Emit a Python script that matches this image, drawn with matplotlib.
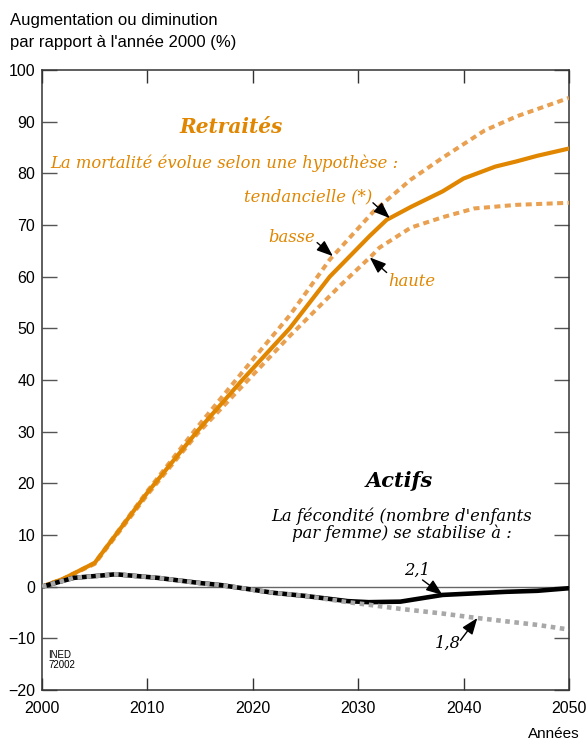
import numpy as np
import matplotlib
matplotlib.use("Agg")
import matplotlib.pyplot as plt

# ---- data ----
ret_years = [2000, 2002, 2005, 2010, 2014.7, 2019, 2023.5, 2027.3, 2031.1, 2032.7,
             2035, 2038, 2040, 2043, 2045, 2047, 2050]
ret_tend = [0, 1.5, 4.6, 18.2, 30.0, 40.0, 50.0, 60.0, 67.9, 71.0,
            73.5, 76.5, 79.0, 81.3, 82.3, 83.4, 84.8]

bas_years = [2000, 2002, 2005, 2010, 2014.7, 2019, 2023.5, 2027.3, 2031.4, 2035, 2038, 2042, 2045, 2050]
ret_basse = [0, 1.5, 4.6, 18.5, 30.8, 41.5, 52.5, 63.3, 72.5, 78.8, 83.0, 88.3, 91.0, 94.6]

hau_years = [2000, 2002, 2005, 2010, 2014.7, 2019, 2023.5, 2028.3, 2031.4, 2032, 2035, 2038, 2041, 2045, 2050]
ret_haute = [0, 1.5, 4.4, 17.8, 29.5, 38.8, 48.5, 58.3, 64.3, 65.6, 69.5, 71.5, 73.2, 73.9, 74.3]

act_years = [2000, 2003, 2007, 2011, 2015, 2017, 2020, 2022, 2025, 2027, 2029, 2031, 2034, 2038, 2041, 2044, 2047, 2050]
act_21 = [0, 1.7, 2.4, 1.7, 0.7, 0.3, -0.6, -1.2, -1.8, -2.3, -2.8, -3.0, -2.9, -1.6, -1.3, -1.0, -0.8, -0.3]
act_18 = [0, 1.7, 2.4, 1.7, 0.7, 0.3, -0.6, -1.2, -1.8, -2.4, -3.0, -3.5, -4.3, -5.2, -6.0, -6.7, -7.4, -8.3]

x_ticks = [2000, 2010, 2020, 2030, 2040, 2050]
y_ticks = [-20, -10, 0, 10, 20, 30, 40, 50, 60, 70, 80, 90, 100]

ORANGE = "#E08600"
ORANGE_L = "#E9A050"
GRAY = "#A8A8A8"

fig = plt.figure(figsize=(5.86, 7.42), dpi=100)
ax = fig.add_axes([42/586, 1-690/742, (569-42)/586, (690-70)/742])

ax.set_xlim(2000, 2050)
ax.set_ylim(-20, 100)

ax.axhline(0, color="#666666", lw=1.0, zorder=1)

# Retraités
ax.plot(bas_years, ret_basse, color=ORANGE_L, lw=2.9, dashes=(1.5, 1.1), zorder=3)
ax.plot(hau_years, ret_haute, color=ORANGE_L, lw=2.9, dashes=(1.5, 1.1), zorder=3)
ax.plot(ret_years, ret_tend, color=ORANGE, lw=3.0, zorder=4, solid_joinstyle='round')

# Actifs
ax.plot(act_years, act_21, color="black", lw=3.3, zorder=4)
ax.plot(act_years, act_18, color=GRAY, lw=3.3, dashes=(1.0, 1.0), zorder=5)

# ticks / spines
ax.set_xticks(x_ticks)
ax.set_yticks(y_ticks)
ax.tick_params(axis='x', direction='in', length=9, width=1.0, color="#333333",
               top=True, bottom=True, pad=8, labelsize=11.5)
ax.tick_params(axis='y', direction='in', length=11, width=1.0, color="#555555",
               left=True, right=True, pad=5, labelsize=11.5)
for lab in ax.get_xticklabels() + ax.get_yticklabels():
    lab.set_fontfamily("Liberation Sans")
for s in ax.spines.values():
    s.set_color("#333333")
    s.set_linewidth(1.1)

sans = "Liberation Sans"
serif = "DejaVu Serif"

fig.text(10/586, 1-20/742, "Augmentation ou diminution", family=sans, fontsize=12,
         va="center", ha="left")
fig.text(10/586, 1-43/742, "par rapport à l'année 2000 (%)", family=sans, fontsize=12,
         va="center", ha="left")
fig.text(580/586, 1-734/742, "Années", family=sans, fontsize=11, va="center", ha="right")

ax.text(2000.6, -14.2, "INED\n72002", family=sans, fontsize=7, va="center", ha="left",
        linespacing=1.0)

FS = 11.8
# annotations text (data coordinates)
ax.text(2017.9, 89.0, "Retraités", family=serif, style="italic", weight="bold",
        fontsize=14.5, color=ORANGE, ha="center", va="center")
ax.text(2000.8, 82.0, "La mortalité évolue selon une hypothèse :", family=serif,
        style="italic", fontsize=FS, color=ORANGE, ha="left", va="center")
ax.text(2031.3, 75.5, "tendancielle (*)", family=serif, style="italic", fontsize=FS,
        color=ORANGE, ha="right", va="center")
ax.text(2025.9, 67.5, "basse", family=serif, style="italic", fontsize=FS,
        color=ORANGE, ha="right", va="center")
ax.text(2032.8, 59.0, "haute", family=serif, style="italic", fontsize=FS,
        color=ORANGE, ha="left", va="center")

ax.text(2033.9, 20.4, "Actifs", family=serif, style="italic", weight="bold",
        fontsize=15, color="black", ha="center", va="center")
ax.text(2034.1, 12.0, "La fécondité (nombre d'enfants\npar femme) se stabilise à :",
        family=serif, style="italic", fontsize=FS, color="black", ha="center",
        va="center", linespacing=0.95)
ax.text(2035.6, 3.1, "2,1", family=serif, style="italic", fontsize=FS,
        color="black", ha="center", va="center")
ax.text(2038.5, -11.0, "1,8", family=serif, style="italic", fontsize=FS,
        color="black", ha="center", va="center")

# arrows: tip on the curves
arrowprops = dict(arrowstyle="-|>,head_length=1.0,head_width=0.38", color="black",
                  lw=1.0, shrinkA=0, shrinkB=0)
def arrow(tip_year, years, vals, tail):
    tip = (tip_year, float(np.interp(tip_year, years, vals)))
    ax.annotate("", xy=tip, xytext=tail, arrowprops=arrowprops, zorder=6)

arrow(2033.0, ret_years, ret_tend, (2031.4, 74.3))
arrow(2027.6, bas_years, ret_basse, (2026.1, 66.6))
arrow(2031.1, hau_years, ret_haute, (2032.7, 60.8))
arrow(2038.0, act_years, act_21, (2036.1, 1.3))
arrow(2041.3, act_years, act_18, (2039.7, -10.4))

fig.savefig("out.png", dpi=100)
